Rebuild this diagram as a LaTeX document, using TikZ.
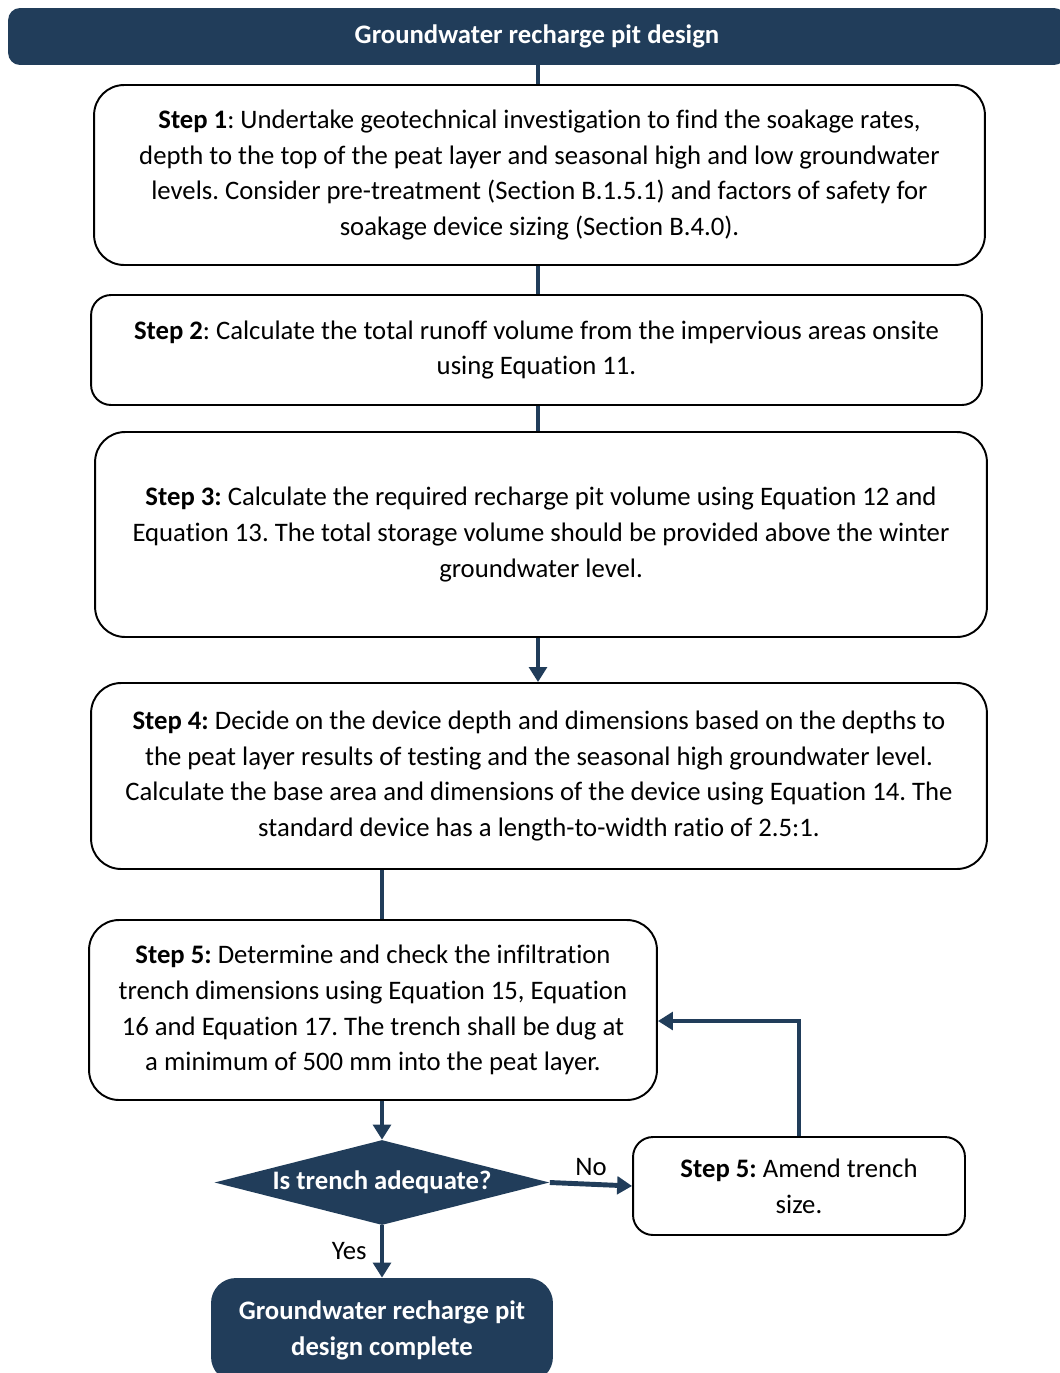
\documentclass[tikz,border=0pt]{standalone}
\usepackage{fontspec}
\setmainfont{Carlito}[Ligatures=NoCommon]
\usetikzlibrary{arrows.meta,positioning,shapes.geometric}
\definecolor{navy}{HTML}{213D5A}
\frenchspacing

\begin{document}
\begin{tikzpicture}[x=0.02cm, y=-0.02cm,
		font=\fontsize{15.2}{20.4}\selectfont,
		stepbox/.style={draw=black, line width=1.1pt, rounded corners=0.6cm, align=center, inner sep=0pt},
		darkbox/.style={fill=navy, text=white, font=\fontsize{15.2}{20.4}\selectfont\bfseries, align=center, inner sep=0pt},
		link/.style={draw=navy, line width=2.8pt},
		flow/.style={link, -{Triangle[length=8.5pt,width=10pt]}}]
		\useasboundingbox (0,0) rectangle (1059,1373);
		
		\node[darkbox, rounded corners=0.24cm, minimum width=21.16cm, minimum height=1.14cm] (title) at (537,36.5) {Groundwater recharge pit design};
		
		\begin{scope}[every node/.style={stepbox}]
			\node[minimum width=17.82cm, minimum height=3.6cm] (step1) at (539.5,175)
			{\textbf{Step 1}: Undertake geotechnical investigation to find the soakage rates,\\
				depth to the top of the peat layer and seasonal high and low groundwater\\
				levels. Consider pre-treatment (Section B.1.5.1) and factors of safety for\\
				soakage device sizing (Section B.4.0).};
			\node[minimum width=17.82cm, minimum height=2.2cm, rounded corners=0.4cm] (step2) at (536.5,350)
			{\textbf{Step 2}: Calculate the total runoff volume from the impervious areas onsite\\
				using Equation 11.};
			\node[minimum width=17.84cm, minimum height=4.1cm] (step3) at (541,534.5)
			{\textbf{Step 3:} Calculate the required recharge pit volume using Equation 12 and\\
				Equation 13. The total storage volume should be provided above the winter\\
				groundwater level.};
			\node[minimum width=17.92cm, minimum height=3.72cm] (step4) at (539,776)
			{\textbf{Step 4:} Decide on the device depth and dimensions based on the depths to\\
				the peat layer results of testing and the seasonal high groundwater level.\\
				Calculate the base area and dimensions of the device using Equation 14. The\\
				standard device has a length-to-width ratio of 2.5:1.};
			\node[minimum width=11.36cm, minimum height=3.6cm] (step5) at (373,1010)
			{\textbf{Step 5:} Determine and check the infiltration\\
				trench dimensions using Equation 15, Equation\\
				16 and Equation 17. The trench shall be dug at\\
				a minimum of 500 mm into the peat layer.};
			\node[minimum width=6.64cm, minimum height=1.96cm, rounded corners=0.4cm] (amend) at (799,1186)
			{\textbf{Step 5:} Amend trench\\
				size.};
		\end{scope}
		
		\node[darkbox, diamond, shape aspect=3.94, minimum width=6.7cm, minimum height=1.7cm] (check) at (382,1182.5) {Is trench adequate?};
		\node[darkbox, rounded corners=0.5cm, minimum width=6.84cm, minimum height=2.08cm] (done) at (382,1330)
		{Groundwater recharge pit\\ design complete};
		
		% main line
		\coordinate (spine) at (538,0);
		\draw[link] (spine |- title.south) -- (spine |- step1.north);
		\draw[link] (spine |- step1.south) -- (spine |- step2.north);
		\draw[link] (spine |- step2.south) -- (spine |- step3.north);
		\draw[flow] (spine |- step3.south) -- (spine |- step4.north);
		\draw[link] (check.north |- step4.south) -- (check.north |- step5.north);
		\draw[flow] (check.north |- step5.south) -- (check.north);
		
		% decision
		\draw[flow] (check.east) -- node[above] {No} (amend.west);
		\draw[flow] (check.south) -- node[left=4pt] {Yes} (done.north);
		\draw[flow] (amend.north) |- ([yshift=-0.22cm]step5.east);
	\end{tikzpicture}
\end{document}
